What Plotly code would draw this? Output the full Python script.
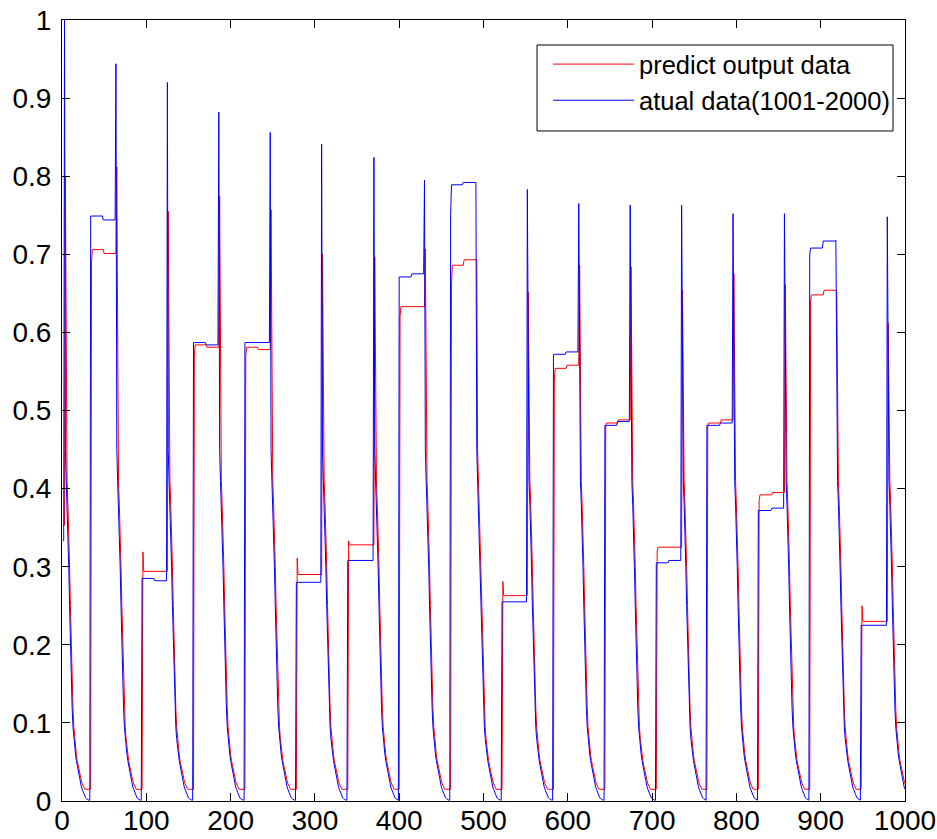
import numpy as np
import plotly.graph_objects as go

N = 1000

# sample index of each spike (blue series); red lags by one sample
spike_idx = [3, 64, 125, 186, 247, 308, 370, 430, 491, 552, 613, 674, 735, 796, 857, 918, 979]
# sample index where each plateau begins
plateau_idx = [34, 95, 156, 217, 278, 339, 400, 461, 522, 583, 644, 705, 765, 826, 887, 948]

# values before first spike
blue_start = 0.333
red_start = 0.353

# spike peak values
blue_peak = [1.0, 0.944, 0.92, 0.882, 0.856, 0.841, 0.824, 0.795, 0.792, 0.783, 0.765,
             0.763, 0.763, 0.752, 0.752, 0.718, 0.748]
red_peak = [0.80, 0.812, 0.755, 0.774, 0.757, 0.70, 0.697, 0.707, 0.693, 0.652, 0.686,
            0.684, 0.654, 0.675, 0.661, 0.652, 0.612]

# plateau levels: first sample, first half, second half
blue_plat_first = [0.749, 0.285, 0.587, 0.587, 0.280, 0.308, 0.671, 0.750, 0.255, 0.572,
                   0.481, 0.305, 0.481, 0.372, 0.700, 0.225]
blue_plat_a = [0.749, 0.285, 0.587, 0.587, 0.280, 0.308, 0.671, 0.789, 0.255, 0.572,
               0.481, 0.305, 0.481, 0.372, 0.708, 0.225]
blue_plat_b = [0.744, 0.282, 0.584, 0.587, 0.280, 0.308, 0.675, 0.792, 0.255, 0.575,
               0.486, 0.308, 0.484, 0.375, 0.717, 0.225]
red_plat_first = [0.690, 0.319, 0.570, 0.570, 0.311, 0.333, 0.620, 0.660, 0.281, 0.538,
                  0.480, 0.320, 0.480, 0.385, 0.640, 0.250]
red_plat_a = [0.706, 0.294, 0.584, 0.581, 0.290, 0.328, 0.633, 0.686, 0.263, 0.554,
              0.484, 0.325, 0.484, 0.392, 0.648, 0.230]
red_plat_b = [0.701, 0.294, 0.581, 0.578, 0.290, 0.328, 0.633, 0.693, 0.263, 0.558,
              0.488, 0.325, 0.488, 0.395, 0.654, 0.230]

# decay after a spike, samples 1, 2, 3, ... after the peak
blue_decay = [0.45, 0.41, 0.38, 0.35, 0.30, 0.25, 0.20, 0.155, 0.12, 0.095, 0.080, 0.068,
              0.060, 0.052, 0.046, 0.040, 0.033, 0.027, 0.022, 0.018, 0.015, 0.012, 0.009,
              0.006, 0.004, 0.003, 0.002, 0.001, 0.001, 0.001, 0.001, 0.001]
red_decay = [0.45, 0.41, 0.38, 0.35, 0.30, 0.25, 0.20, 0.155, 0.12, 0.095, 0.080, 0.068,
             0.060, 0.052, 0.046, 0.040, 0.035, 0.030, 0.026, 0.022, 0.019, 0.017, 0.015,
             0.015, 0.015, 0.015, 0.015, 0.015, 0.015, 0.015, 0.015, 0.015]

x_ticks = [0, 100, 200, 300, 400, 500, 600, 700, 800, 900, 1000]
x_ticktext = ["0", "100", "200", "300", "400", "500", "600", "700", "800", "900", "1000"]
y_ticks = [0, 0.1, 0.2, 0.3, 0.4, 0.5, 0.6, 0.7, 0.8, 0.9, 1.0]
y_ticktext = ["0", "0.1", "0.2", "0.3", "0.4", "0.5", "0.6", "0.7", "0.8", "0.9", "1"]


def build(start, peaks, first, pa, pb, decay, lag):
    y = {}
    for xi in range(1, spike_idx[0] + lag):
        y[xi] = start
    for k, s in enumerate(spike_idx):
        sp = s + lag
        y[sp] = peaks[k]
        end = plateau_idx[k] + lag if k < len(plateau_idx) else N + 1
        for xi in range(sp + 1, end):
            d = xi - sp - 1
            y[xi] = decay[min(d, len(decay) - 1)]
        if k < len(plateau_idx):
            p = plateau_idx[k] + lag
            nxt = spike_idx[k + 1] + lag
            length = nxt - p
            y[p] = first[k]
            for xi in range(p + 1, nxt):
                y[xi] = pa[k] if (xi - p) < length / 2 else pb[k]
    xs = list(range(1, N + 1))
    return xs, [y[xi] for xi in xs]


xr, red = build(red_start, red_peak, red_plat_first, red_plat_a, red_plat_b, red_decay, 1)
xb, blue = build(blue_start, blue_peak, blue_plat_first, blue_plat_a, blue_plat_b, blue_decay, 0)

fig = go.Figure()
fig.add_trace(go.Scatter(x=xr, y=red, mode="lines", name="predict output data",
                         line=dict(color="#ff0000", width=1)))
fig.add_trace(go.Scatter(x=xb, y=blue, mode="lines", name="atual data(1001-2000)",
                         line=dict(color="#0000ff", width=1)))

fig.update_layout(
    width=937, height=839,
    margin=dict(l=62, r=32, t=20, b=38, autoexpand=False),
    plot_bgcolor="white", paper_bgcolor="white",
    font=dict(family="Arial, Liberation Sans, sans-serif", size=28, color="black"),
    legend=dict(x=0.5765, y=0.9731, xanchor="left", yanchor="top",
                borderwidth=0, bgcolor="rgba(0,0,0,0)",
                itemwidth=81, font=dict(size=25.5)),
    shapes=[dict(type="rect", xref="paper", yref="paper",
                 x0=0.5635, x1=0.9858, y0=0.8579, y1=0.968,
                 line=dict(color="black", width=1), fillcolor="white", layer="below")],
)
fig.update_xaxes(range=[0, 1000], tickmode="array", tickvals=x_ticks, ticktext=x_ticktext,
                 ticks="inside", ticklen=8, tickcolor="black", showline=True,
                 linecolor="black", linewidth=1, mirror="ticks", showgrid=False,
                 zeroline=False, ticklabelstandoff=-6)
fig.update_yaxes(range=[0, 1], tickmode="array", tickvals=y_ticks, ticktext=y_ticktext,
                 ticks="inside", ticklen=8, tickcolor="black", showline=True,
                 linecolor="black", linewidth=1, mirror="ticks", showgrid=False,
                 zeroline=False, ticklabelstandoff=4)

fig.write_html("out.html", config={"displayModeBar": False},
               post_script="document.body.style.margin='0';document.body.style.overflow='hidden';")
